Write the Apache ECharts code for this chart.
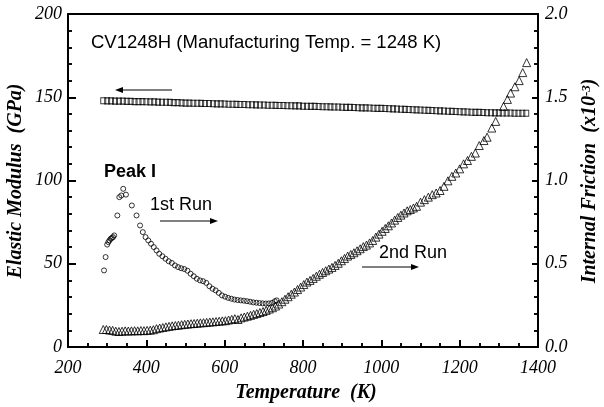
<!DOCTYPE html>
<html>
<head>
<meta charset="utf-8">
<script src="https://cdn.jsdelivr.net/npm/echarts@6/dist/echarts.min.js"></script>
<style>
  html, body { margin: 0; padding: 0; background: #fff; }
  #chart { width: 604px; height: 407px; }
</style>
</head>
<body>
<div id="chart"></div>
<script>
// Elastic modulus (GPa), measured while cooling
const modulusTemp = [290,300,310,320,330,340,350,360,370,380,390,400,410,420,430,440,450,460,470,480,490,500,510,520,530,540,550,560,570,580,590,600,610,620,630,640,650,660,670,680,690,700,710,720,730,740,750,760,770,780,790,800,810,820,830,840,850,860,870,880,890,900,910,920,930,940,950,960,970,980,990,1000,1010,1020,1030,1040,1050,1060,1070,1080,1090,1100,1110,1120,1130,1140,1150,1160,1170,1180,1190,1200,1210,1220,1230,1240,1250,1260,1270,1280,1290,1300,1310,1320,1330,1340,1350,1360,1370];
const modulusGPa = [147.9,147.8,147.8,147.7,147.7,147.7,147.5,147.5,147.4,147.4,147.4,147.3,147.2,147.2,147.1,147.0,147.0,146.9,146.8,146.8,146.6,146.5,146.5,146.4,146.4,146.3,146.2,146.2,146.1,146.0,146.0,145.9,145.8,145.8,145.7,145.6,145.6,145.5,145.5,145.4,145.3,145.3,145.2,145.2,145.1,145.0,145.0,144.9,144.9,144.8,144.8,144.6,144.6,144.5,144.5,144.4,144.3,144.3,144.2,144.1,144.1,144.0,143.9,143.9,143.8,143.7,143.6,143.6,143.5,143.4,143.3,143.3,143.2,143.1,143.0,142.9,142.8,142.7,142.6,142.5,142.4,142.3,142.2,142.1,142.0,141.9,141.8,141.7,141.6,141.5,141.4,141.3,141.2,141.1,141.0,140.9,140.9,140.8,140.7,140.7,140.6,140.6,140.5,140.5,140.5,140.4,140.4,140.4,140.4];

// Internal friction (x10^-3), 1st run
const run1Temp = [292,296,300,303,306,309,312,315,318,326,331,336,341,348,363,375,384,391,398,405,412,419,426,433,441,449,457,465,473,481,489,497,505,513,521,529,537,545,553,561,569,577,585,593,601,609,617,625,633,641,649,657,665,673,681,689,697,705,713,721,728,733];
const run1Friction = [0.46,0.54,0.615,0.63,0.64,0.65,0.655,0.66,0.67,0.79,0.90,0.91,0.95,0.915,0.85,0.79,0.73,0.69,0.66,0.64,0.62,0.60,0.58,0.56,0.545,0.53,0.515,0.505,0.49,0.48,0.473,0.468,0.458,0.44,0.425,0.41,0.40,0.395,0.385,0.365,0.35,0.34,0.325,0.31,0.302,0.295,0.29,0.285,0.282,0.28,0.278,0.275,0.272,0.268,0.266,0.264,0.262,0.261,0.262,0.265,0.275,0.28];

// Internal friction (x10^-3), 2nd run
const run2Temp = [290,298,306,314,322,330,338,346,354,362,370,378,386,394,402,410,418,426,434,442,450,458,466,474,482,490,498,506,514,522,530,538,546,554,562,570,578,586,594,602,610,618,626,634,642,650,658,666,674,682,690,698,706,714,722,730,738,746,754,762,770,778,786,794,802,810,818,826,834,842,850,858,866,874,882,890,898,906,914,922,930,938,946,954,962,970,978,986,994,1002,1010,1018,1026,1034,1042,1050,1058,1066,1074,1082,1090,1100,1110,1120,1130,1140,1150,1160,1170,1180,1190,1200,1210,1220,1230,1240,1250,1262,1270,1282,1292,1312,1322,1330,1341,1352,1361,1371];
const run2Friction = [0.105,0.105,0.102,0.100,0.095,0.093,0.095,0.097,0.096,0.097,0.098,0.097,0.099,0.098,0.100,0.101,0.104,0.110,0.114,0.117,0.121,0.124,0.127,0.129,0.131,0.134,0.136,0.138,0.140,0.141,0.143,0.145,0.146,0.148,0.150,0.151,0.153,0.155,0.157,0.158,0.162,0.166,0.170,0.165,0.175,0.180,0.185,0.190,0.196,0.201,0.207,0.213,0.220,0.228,0.236,0.246,0.258,0.272,0.287,0.302,0.317,0.330,0.345,0.360,0.375,0.390,0.400,0.412,0.425,0.437,0.448,0.458,0.468,0.478,0.490,0.503,0.518,0.532,0.546,0.556,0.566,0.578,0.590,0.603,0.612,0.625,0.640,0.660,0.678,0.695,0.712,0.728,0.745,0.762,0.778,0.792,0.805,0.818,0.826,0.835,0.845,0.870,0.885,0.900,0.915,0.925,0.940,0.965,0.998,1.025,1.045,1.070,1.100,1.120,1.145,1.165,1.210,1.240,1.260,1.315,1.355,1.445,1.487,1.525,1.563,1.600,1.648,1.708];

// axis ranges and major steps
const tempRange = [200, 1400, 200];
const modulusRange = [0, 200, 50];
const frictionRange = [0, 2, 0.5];

const pairs = (xs, ys) => xs.map((x, i) => [x, ys[i]]);

const SERIF = 'Liberation Serif';
const SANS = 'Liberation Sans';
const INK = '#000';
const TITLE_FONT = 'italic bold 20px ' + SERIF;

const chart = echarts.init(document.getElementById('chart'));

const tickLabel = (margin, formatter) => ({ show: true, margin: margin, fontFamily: SERIF, fontStyle: 'italic', fontSize: 18, color: INK, formatter: formatter });
const ticks = len => ({ show: true, inside: true, length: len, lineStyle: { color: INK, width: 2 } });
const minor = (split, len) => ({ show: true, splitNumber: split, length: len, lineStyle: { color: INK, width: 1.5 } });
const frameLine = () => ({ show: true, onZero: false, lineStyle: { color: INK, width: 2 } });
const range = r => ({ min: r[0], max: r[1], interval: r[2] });

// bare axis that only carries the inward major/minor ticks
function tickAxis(position, r, len, split) {
  return Object.assign({
    type: 'value', gridIndex: 1, position: position,
    axisLine: { show: false, onZero: false },
    axisTick: ticks(len), minorTick: minor(split, 4),
    axisLabel: { show: false }, splitLine: { show: false }
  }, range(r));
}

const hollow = (symbol, size) => ({
  type: 'scatter',
  symbol: symbol,
  symbolSize: size,
  itemStyle: { color: 'rgba(0,0,0,0)', borderColor: INK, borderWidth: 1 }
});

// direction arrow: shaft plus filled head
function arrow(x1, x2, y) {
  const dir = x2 > x1 ? 1 : -1;
  const hl = 8, hw = 3;
  return {
    type: 'group',
    children: [
      { type: 'line', shape: { x1: x1, y1: y, x2: x2 - dir * hl * 0.6, y2: y }, style: { stroke: INK, lineWidth: 1 } },
      { type: 'polygon', shape: { points: [[x2, y], [x2 - dir * hl, y - hw], [x2 - dir * hl, y + hw]] }, style: { fill: INK } }
    ]
  };
}

function note(text, x, y, size, bold) {
  return {
    type: 'text', x: x, y: y,
    style: { text: text, font: (bold ? 'bold ' : '') + size + 'px ' + SANS, fill: INK, textVerticalAlign: 'middle' }
  };
}

// axis titles, centred on their anchor point
function axisTitle(text, x, y, rotation, rich) {
  return {
    type: 'text', x: x, y: y, rotation: rotation,
    style: { text: text, font: TITLE_FONT, fill: INK, align: 'center', verticalAlign: 'middle', rich: rich }
  };
}

const plotBox = { left: 68, right: 66, top: 14, bottom: 60 };

chart.setOption({
  animation: false,
  grid: [Object.assign({}, plotBox), Object.assign({}, plotBox)],
  xAxis: [
    Object.assign({
      type: 'value', gridIndex: 0, position: 'bottom',
      axisLine: frameLine(), axisTick: ticks(7), minorTick: minor(4, 4),
      axisLabel: tickLabel(12, v => String(v)),
      splitLine: { show: false }
    }, range(tempRange)),
    Object.assign({
      type: 'value', gridIndex: 0, position: 'top',
      axisLine: frameLine(), axisTick: { show: false }, axisLabel: { show: false }, splitLine: { show: false }
    }, range(tempRange)),
    tickAxis('bottom', tempRange, 7, 4)
  ],
  yAxis: [
    Object.assign({
      type: 'value', gridIndex: 0, position: 'left',
      axisLine: frameLine(), axisTick: ticks(8), minorTick: minor(5, 4),
      axisLabel: tickLabel(6, v => String(v)),
      splitLine: { show: false }
    }, range(modulusRange)),
    Object.assign({
      type: 'value', gridIndex: 0, position: 'right',
      axisLine: frameLine(), axisTick: ticks(6), minorTick: minor(5, 4),
      axisLabel: tickLabel(7, v => v.toFixed(1)),
      splitLine: { show: false }
    }, range(frictionRange)),
    tickAxis('left', modulusRange, 8, 5),
    tickAxis('right', frictionRange, 6, 5)
  ],
  series: [
    Object.assign(hollow('rect', [5, 6]), { name: 'Elastic Modulus', xAxisIndex: 0, yAxisIndex: 0, data: pairs(modulusTemp, modulusGPa) }),
    Object.assign(hollow('circle', 5), { name: '1st Run', xAxisIndex: 0, yAxisIndex: 1, data: pairs(run1Temp, run1Friction) }),
    Object.assign(hollow('triangle', 8), { name: '2nd Run', xAxisIndex: 0, yAxisIndex: 1, data: pairs(run2Temp, run2Friction) })
  ],
  graphic: [
    axisTitle('Temperature  (K)', 306, 393, 0),
    axisTitle('Elastic Modulus  (GPa)', 16, 181, Math.PI / 2),
    axisTitle('Internal Friction  (x10{sup|-3})', 590, 181, Math.PI / 2,
      { sup: { font: 'italic bold 13px ' + SERIF, fill: INK, verticalAlign: 'top' } }),
    note('CV1248H (Manufacturing Temp. = 1248 K)', 91, 43, 18.5, false),
    note('Peak I', 104, 172, 18, true),
    note('1st Run', 150, 205, 18, false),
    note('2nd Run', 379, 253, 18, false),
    arrow(172, 115, 90),
    arrow(160, 218, 221),
    arrow(362, 419, 267)
  ]
});
</script>
</body>
</html>
